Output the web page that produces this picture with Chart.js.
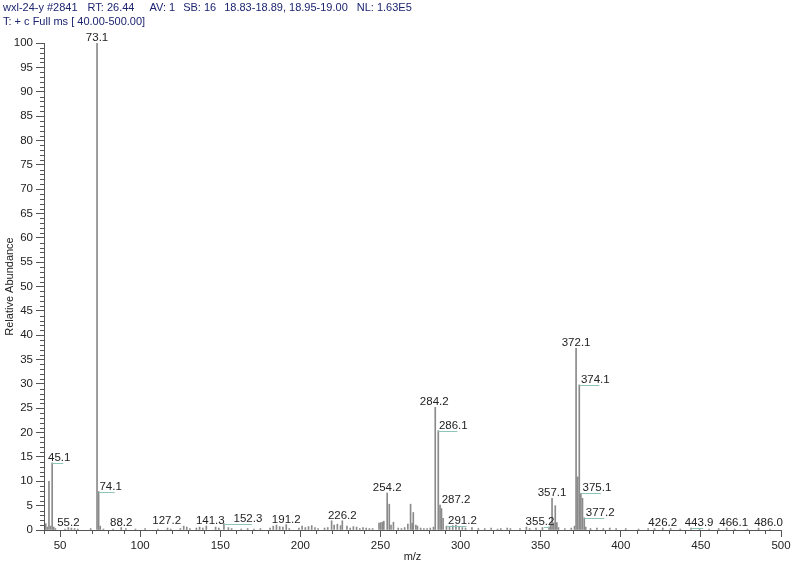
<!DOCTYPE html>
<html lang="en">
<head>
<meta charset="UTF-8">
<title>wxl-24-y #2841</title>
<script src="https://cdn.jsdelivr.net/npm/chart.js@4"></script>
<style>
  body { margin: 0; background: #fff; }
  #wrap { position: relative; width: 794px; height: 567px; }
  .hdr { position: absolute; left: 3px; font: 11px "Liberation Sans", Arial, sans-serif; color: #1c2470; white-space: pre; }
</style>
</head>
<body>
<div id="wrap">
  <div class="hdr" style="top:1px">wxl-24-y #2841<span style="margin-left:10px">RT: 26.44</span><span style="margin-left:15px">AV: 1</span><span style="margin-left:8px">SB: 16</span><span style="margin-left:8px">18.83-18.89, 18.95-19.00</span><span style="margin-left:9px">NL: 1.63E5</span></div>
  <div class="hdr" style="top:15px">T: + c Full ms [ 40.00-500.00]</div>
  <canvas id="spec" width="794" height="567"></canvas>
</div>

<script>
// peaks (m/z, relative abundance %)
const peakMz = [
  41.1, 42.1, 43.1, 44.1, 45.1, 46.1, 47.1, 53.1, 55.2, 57.1, 59.1, 61.1, 69.1,
  73.1, 74.1, 75.1, 77.1, 83.1, 88.2, 91.1, 97.1, 103.1, 111.1, 117.1, 119.1,
  125.1, 127.2, 129.1, 131.1, 135.1, 137.1, 139.1, 141.3, 147.1, 149.1, 152.3,
  155.1, 157.1, 163.1, 167.1, 171.1, 175.1, 181.1, 183.1, 185.1, 187.1, 189.1,
  191.2, 193.1, 199.1, 201.1, 203.1, 205.1, 207.1, 209.1, 211.1, 215.1, 217.1,
  219.5, 221.1, 223.1, 225.1, 226.2, 229.1, 231.1, 233.1, 235.1, 237.1, 239.1,
  241.1, 243.1, 245.1, 249.1, 250.1, 251.1, 252.1, 254.2, 255.5, 256.6, 258.1,
  261.1, 263.1, 265.1, 267.1, 268.8, 269.8, 270.5, 272.1, 273.1, 275.1, 277.1,
  279.1, 281.1, 283.1, 284.2, 286.1, 287.2, 288.1, 289.1, 291.2, 293.1, 295.1,
  297.1, 299.1, 301.1, 303.1, 307.1, 311.1, 315.1, 319.1, 323.1, 325.1, 329.1,
  331.1, 337.1, 341.1, 343.1, 347.1, 351.1, 355.2, 356.2, 357.1, 358.1, 359.1,
  360.1, 361.1, 365.1, 369.1, 371.1, 372.1, 373.1, 374.1, 375.1, 376.1, 377.2,
  378.1, 381.1, 385.1, 389.1, 393.1, 397.1, 403.1, 411.1, 417.1, 421.1, 426.2,
  431.1, 437.1, 443.9, 449.1, 455.1, 461.1, 466.1, 471.1, 479.1, 486.0, 493.1
];
const peakAbund = [
  1.3, 0.6, 10.0, 0.8, 13.8, 0.6, 0.3, 0.2, 0.5, 0.4, 0.3, 0.2, 0.3,
  100, 7.9, 0.8, 0.2, 0.2, 0.5, 0.3, 0.2, 0.3, 0.2, 0.4, 0.2,
  0.3, 0.8, 0.6, 0.3, 0.4, 0.6, 0.4, 0.8, 0.6, 0.4, 1.3,
  0.5, 0.3, 0.2, 0.3, 0.2, 0.3, 0.4, 0.8, 1.0, 0.7, 0.6,
  1.1, 0.3, 0.4, 0.8, 0.5, 0.7, 0.9, 0.5, 0.3, 0.4, 0.5,
  1.9, 1.0, 1.2, 0.9, 1.9, 0.8, 0.4, 0.7, 0.6, 0.3, 0.5,
  0.4, 0.3, 0.3, 1.4, 1.5, 1.6, 1.8, 7.6, 5.3, 1.0, 1.6,
  0.4, 0.3, 0.5, 1.2, 5.3, 1.4, 3.6, 1.0, 0.8, 0.4, 0.3,
  0.3, 0.4, 0.6, 25.2, 20.4, 5.1, 4.4, 2.4, 0.8, 0.6, 0.9,
  1.0, 0.7, 0.5, 0.4, 0.5, 0.3, 0.3, 0.4, 0.2, 0.3, 0.4,
  0.3, 0.3, 0.6, 0.3, 0.4, 0.5, 0.6, 1.3, 6.5, 1.5, 5.0,
  1.5, 0.5, 0.3, 0.4, 0.8, 37.3, 10.9, 29.8, 7.5, 6.5, 2.5,
  0.6, 0.3, 0.4, 0.3, 0.4, 0.3, 0.3, 0.2, 0.3, 0.3, 0.4,
  0.3, 0.2, 0.4, 0.3, 0.2, 0.3, 0.4, 0.2, 0.2, 0.4, 0.2
];
// peaks that carry an m/z label
const labelMz = [45.1, 55.2, 73.1, 74.1, 88.2, 127.2, 141.3, 152.3, 191.2, 226.2, 254.2,
  284.2, 286.1, 287.2, 291.2, 355.2, 357.1, 372.1, 374.1, 375.1, 377.2, 426.2, 443.9, 466.1, 486.0];

const xMin = 40, xMax = 500, xStep = 50, xMinor = 10;
const yMin = 0, yMax = 100, yStep = 5, yMinor = 1;

// label placement: horizontal shift of the text (px) and whether a leader line is drawn
const labelStyle = {
  '45.1': { dx: 7, lead: true },
  '74.1': { dx: 12, lead: true },
  '127.2': { dx: -17 },
  '141.3': { dx: 4 },
  '152.3': { dx: 24, lead: true },
  '284.2': { dx: -1 },
  '286.1': { dx: 15, lead: true },
  '287.2': { dx: 16 },
  '291.2': { dx: 16, lead: true },
  '355.2': { dx: -9, lead: true },
  '374.1': { dx: 16, lead: true },
  '375.1': { dx: 16, lead: true },
  '377.2': { dx: 16, lead: true },
  '443.9': { dx: 8, lead: true },
  '466.1': { dx: 7 },
  '486.0': { dx: 10 }
};

const FONT = '"Liberation Sans", Arial, sans-serif';

const minorTicks = {
  id: 'minorTicks',
  afterDraw(chart) {
    const { ctx, scales: { x, y }, chartArea: a } = chart;
    ctx.save();
    ctx.strokeStyle = '#555';
    ctx.lineWidth = 1;
    ctx.beginPath();
    for (let v = yMin; v <= yMax; v += yMinor) {
      if (v % yStep === 0) continue;
      const py = Math.round(y.getPixelForValue(v)) + 0.5;
      ctx.moveTo(a.left - 4, py);
      ctx.lineTo(a.left, py);
    }
    for (let v = xMin; v <= xMax; v += xMinor) {
      if (v % xStep === 0) continue;
      const px = Math.round(x.getPixelForValue(v)) + 0.5;
      ctx.moveTo(px, a.bottom);
      ctx.lineTo(px, a.bottom + 4);
    }
    ctx.stroke();
    ctx.restore();
  }
};

const peakLabels = {
  id: 'peakLabels',
  afterDatasetsDraw(chart) {
    const { ctx, scales: { x, y } } = chart;
    ctx.save();
    ctx.font = '11.5px ' + FONT;
    ctx.textAlign = 'center';
    ctx.textBaseline = 'alphabetic';
    labelMz.forEach(mz => {
      const i = peakMz.indexOf(mz);
      const px = x.getPixelForValue(mz);
      const py = y.getPixelForValue(peakAbund[i]);
      const st = labelStyle[mz.toFixed(1)] || { dx: 0 };
      const tx = px + st.dx;
      if (st.lead) {
        ctx.strokeStyle = '#8cc4b8';
        ctx.lineWidth = 1;
        ctx.beginPath();
        ctx.moveTo(px, Math.round(py) + 0.5);
        ctx.lineTo(tx + 4, Math.round(py) + 0.5);
        ctx.stroke();
      }
      ctx.fillStyle = '#222';
      ctx.fillText(mz.toFixed(1), tx, py - 2);
    });
    ctx.restore();
  }
};

new Chart(document.getElementById('spec'), {
  type: 'bar',
  data: {
    datasets: [{
      data: peakMz.map((m, i) => ({ x: m, y: peakAbund[i] })),
      backgroundColor: '#8a8a8a',
      borderWidth: 0,
      barThickness: 1
    }]
  },
  options: {
    responsive: false,
    animation: false,
    layout: { padding: { top: 43, right: 13, left: 0, bottom: 0 } },
    plugins: { legend: { display: false }, tooltip: { enabled: false } },
    scales: {
      x: {
        type: 'linear', min: xMin, max: xMax, offset: false,
        grid: { display: true, offset: false, drawOnChartArea: false, drawTicks: true, tickLength: 7, color: '#555' },
        border: { display: true, color: '#555' },
        ticks: { stepSize: xStep, includeBounds: false, autoSkip: false, maxRotation: 0, padding: 2, color: '#222', font: { family: FONT, size: 11.5 } },
        title: { display: true, text: 'm/z', color: '#222', font: { family: FONT, size: 11 }, padding: { top: 3, bottom: 3 } },
        afterFit: s => { s.height = 37; }
      },
      y: {
        type: 'linear', min: yMin, max: yMax,
        grid: { display: true, drawOnChartArea: false, drawTicks: true, tickLength: 8, color: '#555' },
        border: { display: true, color: '#555' },
        ticks: { stepSize: yStep, autoSkip: false, padding: 3, color: '#222', font: { family: FONT, size: 11.5 } },
        title: { display: true, text: 'Relative Abundance', color: '#222', font: { family: FONT, size: 11 }, padding: { top: 3, bottom: 3 } },
        afterFit: s => { s.width = 44; }
      }
    }
  },
  plugins: [minorTicks, peakLabels]
});
</script>
</body>
</html>
